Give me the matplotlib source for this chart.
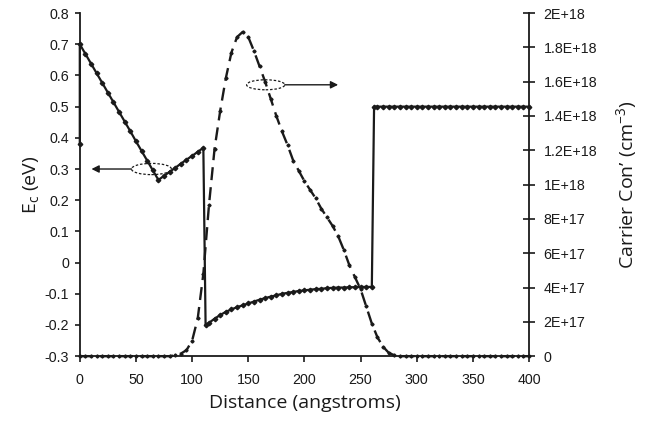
import matplotlib
matplotlib.use("Agg")
import matplotlib.pyplot as plt
from matplotlib.patches import Ellipse

plt.rcParams["mathtext.fontset"] = "custom"
plt.rcParams["mathtext.rm"] = "Open Sans"
plt.rcParams["mathtext.it"] = "Open Sans"

# ---- data ----
# conduction band edge (eV)
ec_x = [0, 0, 5, 10, 15, 20, 25, 30, 35, 40, 45, 50, 55, 60, 65, 70,
        75, 80, 85, 90, 95, 100, 105, 110,
        112, 115, 120, 125, 130, 135, 140, 145, 150, 155, 160, 165, 170,
        175, 180, 185, 190, 195, 200, 205, 210, 215, 220, 225, 230, 235,
        240, 245, 250, 255, 260,
        262, 265, 270, 275, 280, 285, 290, 295, 300, 305, 310, 315, 320,
        325, 330, 335, 340, 345, 350, 355, 360, 365, 370, 375, 380, 385,
        390, 395, 400]
ec_y = [0.38, 0.70, 0.669, 0.638, 0.607, 0.576, 0.545, 0.514, 0.483, 0.452,
        0.421, 0.389, 0.358, 0.327, 0.296, 0.265,
        0.278, 0.291, 0.304, 0.317, 0.330, 0.342, 0.355, 0.368,
        -0.200, -0.193, -0.180, -0.168, -0.158, -0.150, -0.143, -0.137,
        -0.131, -0.125, -0.119, -0.114, -0.109, -0.105, -0.100, -0.097,
        -0.094, -0.091, -0.089, -0.087, -0.085, -0.084, -0.082, -0.081,
        -0.080, -0.080, -0.079, -0.079, -0.078, -0.078, -0.078,
        0.5, 0.5, 0.5, 0.5, 0.5, 0.5, 0.5, 0.5, 0.5, 0.5, 0.5, 0.5, 0.5,
        0.5, 0.5, 0.5, 0.5, 0.5, 0.5, 0.5, 0.5, 0.5, 0.5, 0.5, 0.5, 0.5,
        0.5, 0.5, 0.5]

# carrier concentration (cm^-3)
cc_x = [0, 5, 10, 15, 20, 25, 30, 35, 40, 45, 50, 55, 60, 65, 70, 75, 80,
        85, 90, 95, 100, 105, 110, 115, 120, 125, 130, 135, 140, 145, 150,
        155, 160, 165, 170, 175, 180, 185, 190, 195, 200, 205, 210, 215,
        220, 225, 230, 235, 240, 245, 250, 255, 260, 265, 270, 275, 280,
        285, 290, 295, 300, 305, 310, 315, 320, 325, 330, 335, 340, 345,
        350, 355, 360, 365, 370, 375, 380, 385, 390, 395, 400]
cc_y = [0, 0, 0, 0, 0, 0, 0, 0, 0, 0, 0, 0, 0, 0, 0, 0, 0,
        0.005e18, 0.015e18, 0.035e18, 0.09e18, 0.22e18, 0.48e18, 0.88e18,
        1.21e18, 1.43e18, 1.62e18, 1.77e18, 1.86e18, 1.89e18, 1.86e18,
        1.78e18, 1.69e18, 1.60e18, 1.50e18, 1.40e18, 1.31e18, 1.23e18,
        1.14e18, 1.08e18, 1.02e18, 0.97e18, 0.92e18, 0.86e18, 0.81e18,
        0.76e18, 0.70e18, 0.62e18, 0.53e18, 0.46e18, 0.39e18, 0.29e18,
        0.19e18, 0.11e18, 0.055e18, 0.02e18, 0.005e18,
        0, 0, 0, 0, 0, 0, 0, 0, 0, 0, 0, 0, 0, 0, 0, 0, 0, 0, 0, 0, 0, 0, 0, 0]

x_ticks = [0, 50, 100, 150, 200, 250, 300, 350, 400]
ec_ticks = [-0.3, -0.2, -0.1, 0, 0.1, 0.2, 0.3, 0.4, 0.5, 0.6, 0.7, 0.8]
ec_tick_labels = ["-0.3", "-0.2", "-0.1", "0", "0.1", "0.2", "0.3", "0.4",
                  "0.5", "0.6", "0.7", "0.8"]
cc_ticks = [0, 2e17, 4e17, 6e17, 8e17, 1e18, 1.2e18, 1.4e18, 1.6e18,
            1.8e18, 2e18]
cc_tick_labels = ["0", "2E+17", "4E+17", "6E+17", "8E+17", "1E+18",
                  "1.2E+18", "1.4E+18", "1.6E+18", "1.8E+18", "2E+18"]

ink = "#1a1a1a"
tick_font = "Liberation Sans"
label_font = "Open Sans"

fig = plt.figure(figsize=(6.54, 4.21), dpi=100)
ax1 = fig.add_axes([0.122, 0.154, 0.687, 0.815])
ax2 = ax1.twinx()

# ---- Ec curve ----
ax1.plot(ec_x, ec_y, color=ink, lw=1.6, marker="D", markersize=2.3,
         clip_on=False, zorder=3)

# ---- carrier concentration ----
ax2.plot(cc_x, cc_y, color=ink, lw=1.7, dashes=(5.5, 3), marker="D",
         markersize=1.6, clip_on=False, zorder=3)

ax1.set_xlim(0, 400)
ax1.set_ylim(-0.3, 0.8)
ax2.set_ylim(0, 2e18)

ax1.set_xticks(x_ticks)
ax1.set_xticklabels([str(v) for v in x_ticks], fontfamily=tick_font,
                    fontsize=10.3)
ax1.set_yticks(ec_ticks)
ax1.set_yticklabels(ec_tick_labels, fontfamily=tick_font, fontsize=10.3)
ax2.set_yticks(cc_ticks)
ax2.set_yticklabels(cc_tick_labels, fontfamily=tick_font, fontsize=10.3)

for s in ["top", "right"]:
    ax1.spines[s].set_visible(False)
for s in ["top", "left", "bottom"]:
    ax2.spines[s].set_visible(False)
for sp in [ax1.spines["left"], ax1.spines["bottom"], ax2.spines["right"]]:
    sp.set_linewidth(1.3)
    sp.set_color(ink)

ax1.tick_params(axis="x", direction="out", length=4, width=1.2, pad=8,
                colors=ink)
ax1.tick_params(axis="y", direction="out", length=3.5, width=1.2, pad=4,
                colors=ink)
ax2.tick_params(axis="y", direction="inout", length=8, width=1.2, pad=6.5,
                colors=ink)

ax1.set_xlabel("Distance (angstroms)", fontfamily=label_font, fontsize=14,
               labelpad=5, color=ink)
ax1.set_ylabel(r"E$_\mathrm{c}$ (eV)", fontfamily=label_font, fontsize=14,
               labelpad=3, color=ink)
ax2.set_ylabel(r"Carrier Con’ (cm$^\mathrm{-3}$)", fontfamily=label_font,
               fontsize=14, labelpad=12, color=ink)

# ---- annotation ellipses and arrows ----
ax1.add_patch(Ellipse((63.8, 0.30), 35.6, 0.036, fill=False, ls=(0, (2, 1.5)),
                      lw=0.9, color=ink))
ax1.annotate("", xy=(10.4, 0.30), xytext=(46, 0.30),
             arrowprops=dict(arrowstyle="-|>", color=ink, lw=1.0,
                             mutation_scale=11, shrinkA=0, shrinkB=0))
ax1.add_patch(Ellipse((165.5, 0.57), 34, 0.032, fill=False, ls=(0, (2, 1.5)),
                      lw=0.9, color=ink))
ax1.annotate("", xy=(230, 0.57), xytext=(182.5, 0.57),
             arrowprops=dict(arrowstyle="-|>", color=ink, lw=1.0,
                             mutation_scale=11, shrinkA=0, shrinkB=0))

fig.savefig("out.png", dpi=100)
